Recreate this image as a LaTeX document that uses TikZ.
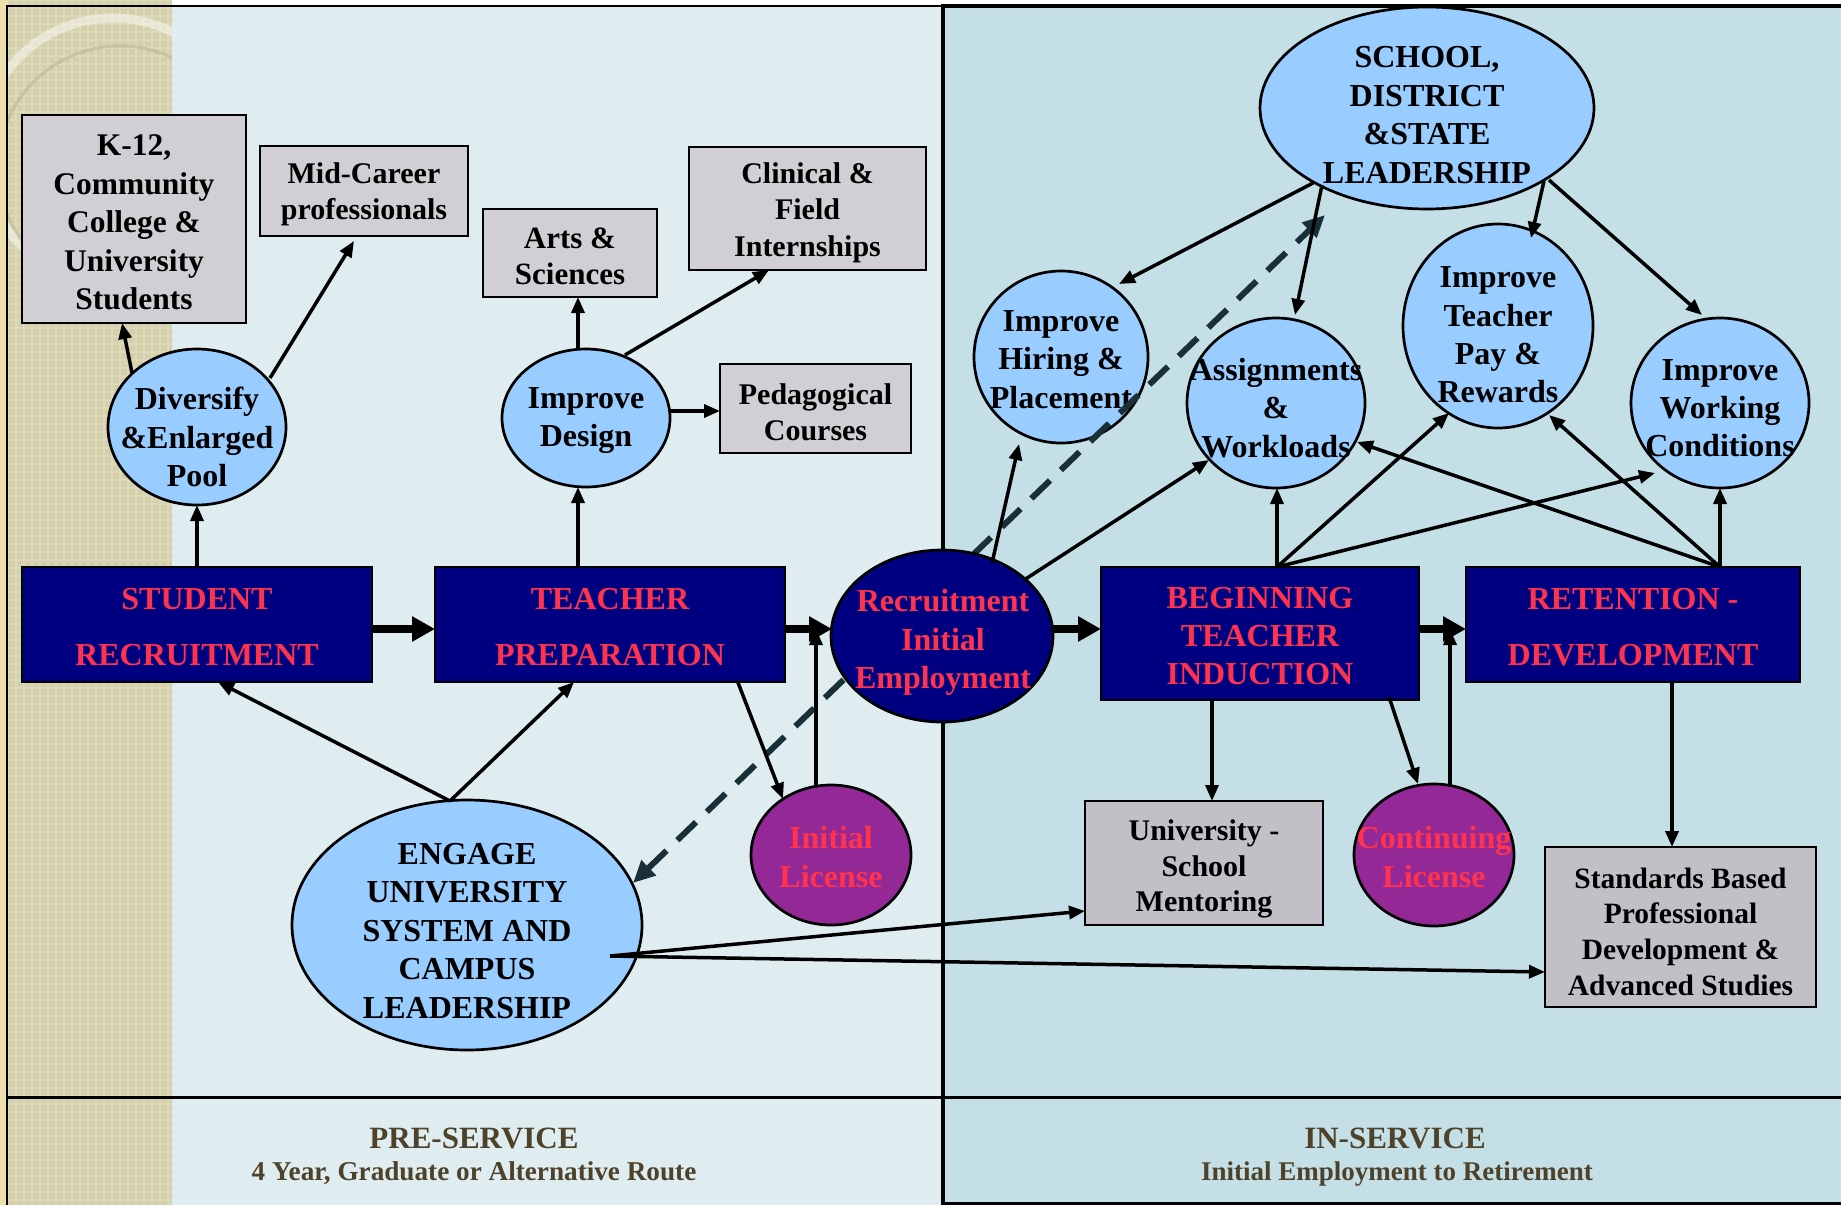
\documentclass[tikz,border=0pt]{standalone}
\usepackage{fontspec}
\setmainfont{Liberation Serif}
\usetikzlibrary{arrows.meta,shapes.geometric,calc}
\definecolor{navyc}{RGB}{0,0,128}
\definecolor{redc}{RGB}{255,51,77}
\definecolor{lblue}{RGB}{153,204,255}
\definecolor{purp}{RGB}{148,40,150}
\definecolor{grayL}{RGB}{209,207,212}
\definecolor{grayR}{RGB}{194,192,198}
\definecolor{panelL}{RGB}{223,237,241}
\definecolor{panelR}{RGB}{196,223,229}
\definecolor{beige}{RGB}{212,208,172}
\definecolor{beigeL}{RGB}{221,217,186}
\definecolor{beigeD}{RGB}{188,184,142}
\definecolor{ybeige}{RGB}{238,224,172}
\definecolor{brownt}{RGB}{78,66,42}
\definecolor{dashc}{RGB}{26,48,56}
\begin{document}
\begin{tikzpicture}[x=1pt,y=-1pt,
  every node/.style={inner sep=0pt,outer sep=0pt},
  gbox/.style={draw=black,line width=2.5pt},
  nbox/.style={draw=black,line width=2.5pt,fill=navyc},
  btxt/.style={align=center,text=black,font=\bfseries\fontsize{30}{36.4}\selectfont},
  ntxt/.style={align=center,text=redc,font=\bfseries\fontsize{32}{38.2}\selectfont},
  ell/.style={ellipse,draw=black,line width=2.7pt},
  etxt/.style={align=center,text=black,font=\bfseries\fontsize{32}{38.3}\selectfont},
  rtxt/.style={etxt,text=redc},
  arr/.style={line width=3.5pt,-{Triangle[length=16pt,width=13pt]}},
  bigarr/.style={line width=8pt,-{Triangle[length=23pt,width=24pt]}},
  dasharr/.style={line width=6pt,draw=dashc,dash pattern=on 26pt off 15pt,
    {Triangle[length=22pt,width=20pt]}-{Triangle[length=22pt,width=20pt]}},
  foot/.style={text=brownt,anchor=base,font=\bfseries\fontsize{31}{31}\selectfont},
  footsub/.style={text=brownt,anchor=base,font=\bfseries\fontsize{27.2}{27}\selectfont}
]
\useasboundingbox (0,0) rectangle (1841,1205);
% ---------- background ----------
\fill[white] (0,0) rectangle (1841,1205);
\fill[ybeige] (0,0) rectangle (8,1205);
\fill[beige] (8,0) rectangle (172,1205);
\begin{scope}
  \clip (8,0) rectangle (172,1205);
  \draw[beigeL,line width=1.5pt,step=8pt] (8,1205) grid (172,0);
  \draw[white,opacity=.45,line width=9pt] (113,150) circle[radius=132];
  \draw[beigeD,opacity=.6,line width=3pt] (120,168) circle[radius=122];
\end{scope}
\fill[panelL] (172,6) rectangle (943,1205);
\fill[panelR] (943,6) rectangle (1841,1205);
\draw[line width=2pt] (7,1205) -- (7,6) -- (943,6);
\draw[line width=3.5pt] (943,1205) -- (943,6) -- (1845,6);
\draw[line width=3pt] (943,1203.5) -- (1845,1203.5);
\draw[line width=3pt] (7,1097) -- (1845,1097);
% ---------- footer ----------
\node[foot] (pre) at (474,1148) {PRE-SERVICE};
\node[footsub] (preS) at (474,1180) {4 Year, Graduate or Alternative Route};
\node[foot] (ins) at (1395,1148) {IN-SERVICE};
\node[footsub,font=\bfseries\fontsize{27}{27}\selectfont] (insS) at (1397,1180) {Initial Employment to Retirement};
% ---------- gray boxes ----------
\node[gbox,fill=grayL,minimum width=224pt,minimum height=208pt] (k12) at (134,219) {};
\node[btxt,font=\bfseries\fontsize{31.5}{38.5}\selectfont] (k12T) at (134,222.5)
  {K-12,\\Community\\College \&\\University\\Students};
\node[gbox,fill=grayL,minimum width=208pt,minimum height=90pt] (mid) at (364,191) {};
\node[btxt] (midT) at (364,194.5) {Mid-Career\\professionals};
\node[gbox,fill=grayL,minimum width=174pt,minimum height=88pt] (arts) at (570,253) {};
\node[btxt,font=\bfseries\fontsize{31}{36.4}\selectfont] (artsT) at (570,256.5) {Arts \&\\Sciences};
\node[gbox,fill=grayL,minimum width=237pt,minimum height=123pt] (clin) at (807.5,208.5) {};
\node[btxt] (clinT) at (807.5,212.5) {Clinical \&\\Field\\Internships};
\node[gbox,fill=grayL,minimum width=191pt,minimum height=89pt] (ped) at (815.5,408.5) {};
\node[btxt] (pedT) at (815.5,412) {Pedagogical\\Courses};
\node[gbox,fill=grayR,minimum width=238pt,minimum height=124pt] (ment) at (1204,863) {};
\node[btxt,font=\bfseries\fontsize{30}{35.4}\selectfont] (mentT) at (1204,869)
  {University -\\School\\Mentoring};
\node[gbox,fill=grayR,minimum width=271pt,minimum height=160pt] (std) at (1680.5,927) {};
\node[btxt,font=\bfseries\fontsize{29.5}{35.7}\selectfont] (stdT) at (1680.5,931.5)
  {Standards Based\\Professional\\Development \&\\Advanced Studies};
% ---------- navy boxes ----------
\node[nbox,minimum width=350pt,minimum height=115pt] (srec) at (197,624.5) {};
\node[ntxt,font=\bfseries\fontsize{32}{56.4}\selectfont] (srecT) at (197,627) {STUDENT\\RECRUITMENT};
\node[nbox,minimum width=350pt,minimum height=115pt] (tprep) at (610,624.5) {};
\node[ntxt,font=\bfseries\fontsize{32}{56.4}\selectfont] (tprepT) at (610,627) {TEACHER\\PREPARATION};
\node[nbox,minimum width=318pt,minimum height=133pt] (bti) at (1260,633.5) {};
\node[ntxt] (btiT) at (1260,636) {BEGINNING\\TEACHER\\INDUCTION};
\node[nbox,minimum width=334pt,minimum height=115pt] (ret) at (1633,624.5) {};
\node[ntxt,font=\bfseries\fontsize{32}{56.4}\selectfont] (retT) at (1633,627) {RETENTION -\\DEVELOPMENT};
% ---------- ellipses ----------
\node[ell,fill=lblue,minimum width=178pt,minimum height=156pt] (div) at (197,427) {};
\node[etxt] (divT) at (197,437) {Diversify\\\&Enlarged\\Pool};
\node[ell,fill=lblue,minimum width=168pt,minimum height=138pt] (impd) at (586,418) {};
\node[etxt] (impdT) at (586,420.5) {Improve\\Design};
\node[ell,fill=purp,minimum width=160pt,minimum height=140pt] (lic) at (831,855) {};
\node[rtxt] (licT) at (831,857) {Initial\\License};
\node[ell,fill=purp,minimum width=160pt,minimum height=142pt] (clic) at (1434,855) {};
\node[rtxt] (clicT) at (1434,857) {Continuing\\License};
\node[ell,fill=lblue,minimum width=350pt,minimum height=250pt] (eng) at (467,925) {};
\node[etxt,font=\bfseries\fontsize{32}{38.5}\selectfont] (engT) at (467,931)
  {ENGAGE\\UNIVERSITY\\SYSTEM AND\\CAMPUS\\LEADERSHIP};
\node[ell,fill=lblue,minimum width=334pt,minimum height=202pt] (school) at (1427,108) {};
\node[etxt,font=\bfseries\fontsize{32}{38.4}\selectfont] (schoolT) at (1427,115)
  {SCHOOL,\\DISTRICT\\\&STATE\\LEADERSHIP};
\node[ell,fill=lblue,minimum width=174pt,minimum height=172pt] (hire) at (1061,357) {};
\node[etxt] (hireT) at (1061,359.5) {Improve\\Hiring \&\\Placement};
\node[ell,fill=lblue,minimum width=178pt,minimum height=170pt] (assign) at (1276,403) {};
\node[etxt] (assignT) at (1276,408) {Assignments\\\&\\Workloads};
\node[ell,fill=lblue,minimum width=190pt,minimum height=204pt] (pay) at (1498,326) {};
\node[etxt] (payT) at (1498,335) {Improve\\Teacher\\Pay \&\\Rewards};
\node[ell,fill=lblue,minimum width=178pt,minimum height=170pt] (work) at (1720,403) {};
\node[etxt] (workT) at (1720,408) {Improve\\Working\\Conditions};
% ---------- dashed link (under the recruitment ellipse) ----------
\draw[dasharr] ($(eng.center)+(166,-42)$) -- ($(school.center)+(-102,107)$);
\node[ell,fill=navyc,minimum width=222pt,minimum height=172pt] (recr) at (942,636) {};
\node[rtxt] (recrT) at (943,642.5) {Recruitment\\Initial\\Employment};
% ---------- main flow ----------
\draw[bigarr] ($(srec.center)+(175,4.5)$) -- ($(tprep.center)+(-175,4.5)$);
\draw[bigarr] ($(tprep.center)+(175,4.5)$) -- ($(recr.center)+(-110,-7)$);
\draw[bigarr] ($(recr.center)+(111,-7)$) -- ($(bti.center)+(-159,-4.5)$);
\draw[bigarr] ($(bti.center)+(159,-4.5)$) -- ($(ret.center)+(-167,4.5)$);
% ---------- thin arrows ----------
\draw[arr] (srec.north) -- (div.south);
\draw[arr] ($(div.center)+(-65,-54)$) -- ($(k12.center)+(-12,104)$);
\draw[arr] ($(div.center)+(73,-49)$) -- ($(mid.center)+(-10,50)$);
\draw[arr] ($(tprep.center)+(-32,-57.5)$) -- ($(impd.center)+(-8,69)$);
\draw[arr] ($(impd.center)+(-8,-69)$) -- ($(arts.center)+(8,44)$);
\draw[arr] ($(impd.center)+(83,-7)$) -- ($(ped.center)+(-95.5,2.5)$);
\draw[arr] ($(impd.center)+(39,-63)$) -- ($(clin.center)+(-38.5,61.5)$);
\coordinate (engtop) at ($(eng.center)+(-17,-124)$);
\draw[arr] (engtop) -- ($(srec.center)+(21,57.5)$);
\draw[arr] (engtop) -- ($(tprep.center)+(-36,57.5)$);
\draw[arr] ($(tprep.center)+(127,55.5)$) -- ($(lic.center)+(-48,-56)$);
\draw[arr] ($(lic.center)+(-15,-69)$) -- ($(recr.center)+(-126,-7)$);
\draw[arr] ($(bti.center)+(-48,66.5)$) -- ($(ment.center)+(8,-62)$);
\draw[arr] ($(bti.center)+(129,63.5)$) -- ($(clic.center)+(-16,-71)$);
\draw[arr] ($(clic.center)+(16,-70)$) -- ($(ret.center)+(-183,4.5)$);
\draw[arr] ($(ret.center)+(39,57.5)$) -- ($(std.center)+(-8.5,-80)$);
\draw[arr] ($(recr.center)+(50,-73)$) -- ($(hire.center)+(-42,87)$);
\draw[arr] ($(recr.center)+(82,-56)$) -- ($(assign.center)+(-67,57)$);
\coordinate (btitop) at ($(bti.center)+(17,-66.5)$);
\draw[arr] (btitop) -- ($(assign.center)+(1,85)$);
\draw[arr] (btitop) -- ($(pay.center)+(-49,87)$);
\draw[arr] (btitop) -- ($(work.center)+(-65,70)$);
\coordinate (rettop) at ($(ret.center)+(87,-57.5)$);
\draw[arr] (rettop) -- ($(work.center)+(0,85)$);
\draw[arr] (rettop) -- ($(pay.center)+(51,89)$);
\draw[arr] (rettop) -- ($(assign.center)+(81,39)$);
\draw[arr] ($(school.center)+(-114,75)$) -- ($(hire.center)+(58,-73)$);
\draw[arr] ($(school.center)+(-105,77)$) -- ($(assign.center)+(19,-88)$);
\draw[arr] ($(school.center)+(117,73)$) -- ($(pay.center)+(33,-88)$);
\draw[arr] ($(school.center)+(122,72)$) -- ($(work.center)+(-18,-88)$);
\coordinate (engout) at ($(eng.center)+(143,31)$);
\draw[arr] (engout) -- ($(ment.center)+(-119,48)$);
\draw[arr] (engout) -- ($(std.center)+(-135.5,45)$);
\end{tikzpicture}
\end{document}
